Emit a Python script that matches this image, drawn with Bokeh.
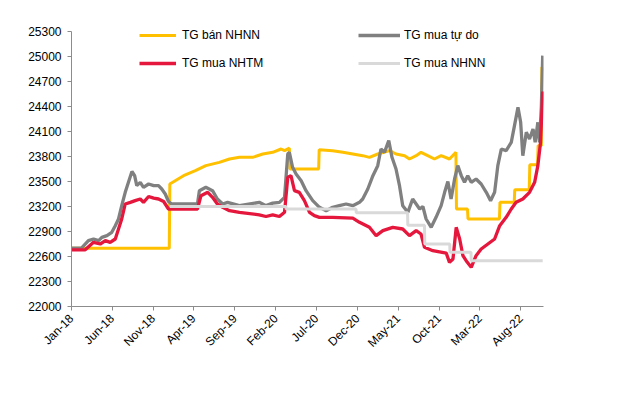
import math
from datetime import datetime
import pandas as pd
from bokeh.plotting import figure
from bokeh.models import (Range1d, FixedTicker, DatetimeTickFormatter, Legend,
                          LegendItem, ColumnDataSource)
from bokeh.embed import file_html
from bokeh.resources import INLINE

FONT = "Liberation Sans"

# ---------------- data ----------------
x_tick_labels = ["Jan-18", "Jun-18", "Nov-18", "Apr-19", "Sep-19", "Feb-20",
                 "Jul-20", "Dec-20", "May-21", "Oct-21", "Mar-22", "Aug-22"]
y_ticks = [22000, 22300, 22600, 22900, 23200, 23500, 23800, 24100, 24400,
           24700, 25000, 25300]

# TG bán NHNN (SBV selling rate)
ban_nhnn_dates = ["2018-01-02", "2018-12-31", "2019-01-02", "2019-02-22", "2019-04-07",
                  "2019-05-16", "2019-07-05", "2019-08-12", "2019-09-18", "2019-11-06",
                  "2019-12-14", "2020-01-20", "2020-02-20", "2020-03-04", "2020-03-22",
                  "2020-03-24", "2020-07-09", "2020-07-11", "2020-08-30",
                  "2020-10-07", "2020-11-13", "2020-12-20", "2021-01-14", "2021-02-14",
                  "2021-03-30", "2021-04-23", "2021-05-25", "2021-06-12", "2021-07-07",
                  "2021-07-25", "2021-08-19", "2021-09-13", "2021-10-08", "2021-11-08",
                  "2021-12-02", "2021-12-04", "2022-01-14", "2022-01-16", "2022-05-13",
                  "2022-05-15", "2022-07-07", "2022-07-09", "2022-09-01", "2022-09-03",
                  "2022-10-02", "2022-10-04", "2022-10-16", "2022-10-18", "2022-10-21"]
ban_nhnn_vals = [22700, 22700, 23470, 23570, 23630,
                 23690, 23730, 23770, 23790, 23790,
                 23830, 23850, 23890, 23870, 23900,
                 23650, 23650, 23880, 23870,
                 23850, 23830, 23810, 23790, 23830,
                 23870, 23830, 23810, 23770, 23810,
                 23850, 23810, 23770, 23810, 23770,
                 23850, 23170, 23170, 23050, 23050,
                 23250, 23250, 23400, 23400, 23700,
                 23700, 23930, 23930, 24870, 24870]

# TG mua tự do (free market buying rate)
tu_do_dates = ["2018-01-02", "2018-02-07", "2018-03-05", "2018-03-24", "2018-04-12",
               "2018-04-24", "2018-05-13", "2018-05-31", "2018-06-13", "2018-06-25",
               "2018-07-07", "2018-07-20", "2018-08-01", "2018-08-14", "2018-08-24",
               "2018-09-01", "2018-09-14", "2018-09-26", "2018-10-15", "2018-11-03",
               "2018-11-21", "2018-12-03", "2018-12-16", "2018-12-28",
               "2019-01-09", "2019-04-15", "2019-04-22", "2019-05-16", "2019-06-10",
               "2019-06-28", "2019-07-18", "2019-08-05", "2019-09-18", "2019-12-01",
               "2019-12-26",
               "2020-01-20", "2020-02-14", "2020-03-04", "2020-03-16", "2020-03-22",
               "2020-04-03", "2020-04-16", "2020-05-05", "2020-05-23", "2020-06-17",
               "2020-07-12", "2020-08-06", "2020-08-30", "2020-09-24", "2020-10-19",
               "2020-11-13", "2020-12-08", "2020-12-20",
               "2021-01-08", "2021-01-27", "2021-02-14", "2021-02-26", "2021-03-11",
               "2021-03-27", "2021-04-08", "2021-04-23", "2021-05-06", "2021-05-18",
               "2021-06-06", "2021-06-24", "2021-07-20", "2021-08-01", "2021-08-13",
               "2021-09-01", "2021-09-19", "2021-10-08", "2021-10-21", "2021-11-02",
               "2021-11-14", "2021-11-27", "2021-12-09", "2021-12-22",
               "2022-01-03", "2022-01-15", "2022-01-28", "2022-02-15", "2022-03-06",
               "2022-03-25", "2022-04-10", "2022-04-25", "2022-05-07", "2022-05-20",
               "2022-06-07", "2022-06-26", "2022-07-08", "2022-07-21", "2022-07-31",
               "2022-08-08", "2022-08-21", "2022-09-02", "2022-09-15", "2022-09-23",
               "2022-10-03", "2022-10-09", "2022-10-16", "2022-10-21"]
tu_do_vals = [22700, 22700, 22790, 22810, 22790,
              22830, 22850, 22890, 22970, 23050,
              23210, 23370, 23490, 23620, 23570,
              23450, 23490, 23430, 23470, 23450,
              23450, 23410, 23350, 23260,
              23230, 23230, 23390, 23430, 23390,
              23290, 23230, 23250, 23210, 23250,
              23210,
              23240, 23250, 23310, 23830, 23850,
              23670, 23590, 23510, 23390, 23270,
              23190, 23150, 23190, 23210, 23230,
              23210, 23250, 23290,
              23410, 23570, 23690, 23890, 23850,
              23990, 23790, 23650, 23450, 23210,
              23130, 23290, 23170, 23200, 23050,
              22950, 23070, 23210, 23370, 23500,
              23290, 23530, 23690, 23570,
              23490, 23570, 23490, 23530, 23470,
              23370, 23270, 23370, 23690, 23890,
              23870, 23970, 24170, 24390, 24210,
              23810, 24090, 24010, 24130, 23970,
              24210, 23970, 24400, 25010]

# TG mua NHTM (commercial banks buying rate)
nhtm_dates = ["2018-01-02", "2018-02-21", "2018-03-24", "2018-04-18", "2018-05-07",
              "2018-05-25", "2018-06-13", "2018-06-25", "2018-07-07", "2018-07-20",
              "2018-08-08", "2018-08-26", "2018-09-14", "2018-09-26", "2018-10-15",
              "2018-11-03", "2018-11-21", "2018-12-10", "2018-12-28",
              "2019-01-09", "2019-04-15", "2019-04-28", "2019-05-23", "2019-06-10",
              "2019-06-28", "2019-07-18", "2019-08-12", "2019-09-18", "2019-12-01",
              "2019-12-26",
              "2020-01-20", "2020-02-14", "2020-03-04", "2020-03-16", "2020-03-28",
              "2020-04-10", "2020-04-28", "2020-05-17", "2020-06-05", "2020-06-23",
              "2020-07-12", "2020-08-30", "2020-11-13", "2020-12-08",
              "2021-01-14", "2021-02-08", "2021-03-05", "2021-04-11", "2021-05-18",
              "2021-06-12", "2021-07-07", "2021-07-25", "2021-08-07", "2021-09-07",
              "2021-10-27", "2021-11-08", "2021-11-21", "2021-12-03", "2021-12-16",
              "2021-12-28",
              "2022-01-09", "2022-01-28", "2022-02-15", "2022-03-06", "2022-03-31",
              "2022-04-25", "2022-05-14", "2022-06-07", "2022-06-26", "2022-07-14",
              "2022-08-08", "2022-09-02", "2022-09-21", "2022-10-03", "2022-10-13",
              "2022-10-21"]
nhtm_vals = [22680, 22680, 22770, 22750, 22790,
             22770, 22810, 22930, 23050, 23230,
             23250, 23270, 23290, 23250, 23320,
             23300, 23290, 23260, 23170,
             23170, 23170, 23330, 23370, 23310,
             23230, 23190, 23150, 23130, 23100,
             23080,
             23100, 23080, 23130, 23550, 23570,
             23390, 23370, 23270, 23130, 23090,
             23070, 23070, 23060, 23010,
             22950, 22850, 22910, 22950, 22930,
             22850, 22910, 22870, 22710, 22670,
             22640, 22530, 22570, 22950, 22810,
             22610,
             22550, 22470, 22610, 22690, 22750,
             22810, 22970, 23070, 23170, 23250,
             23290, 23370, 23490, 23690, 23970,
             24580]

# TG mua NHNN (SBV buying rate)
mua_nhnn_dates = ["2019-01-02", "2020-03-09", "2020-03-10", "2020-11-25", "2020-11-26",
                  "2021-06-05", "2021-06-06", "2021-08-07", "2021-08-08", "2021-11-09",
                  "2021-11-10", "2022-01-27", "2022-01-28", "2022-10-21"]
mua_nhnn_vals = [23200, 23200, 23170, 23170, 23125,
                 23125, 22975, 22975, 22750, 22750,
                 22650, 22650, 22550, 22550]

# ---------------- figure ----------------
x_start = pd.Timestamp("2018-01-01")
x_end = pd.Timestamp("2022-10-24")

p = figure(width=612, height=383, x_axis_type="datetime",
           x_range=Range1d(x_start, x_end), y_range=Range1d(22000, 25600),
           output_backend="svg", toolbar_location=None,
           min_border_left=71, min_border_right=69,
           min_border_top=6, min_border_bottom=77)
p.xgrid.visible = False
p.ygrid.visible = False
p.outline_line_color = None
p.background_fill_color = "white"
p.border_fill_color = "white"

def src(d, v):
    return ColumnDataSource(dict(x=pd.to_datetime(d), y=v))

r_ban = p.line("x", "y", source=src(ban_nhnn_dates, ban_nhnn_vals),
               line_color="#FFC000", line_width=3)
r_tudo = p.line("x", "y", source=src(tu_do_dates, tu_do_vals),
                line_color="#808080", line_width=3.3)
r_nhtm = p.line("x", "y", source=src(nhtm_dates, nhtm_vals),
                line_color="#E5173C", line_width=3.3)
r_mua = p.line("x", "y", source=src(mua_nhnn_dates, mua_nhnn_vals),
               line_color="#D9D9D9", line_width=3)

axis_col = "#8C8C8C"
tick_ms = [pd.Timestamp(datetime.strptime(l, "%b-%y")).value / 1e6 for l in x_tick_labels]
xa = p.xaxis[0]
xa.ticker = FixedTicker(ticks=tick_ms)
fmt = "%b-%y"
xa.formatter = DatetimeTickFormatter(milliseconds=fmt, seconds=fmt, minsec=fmt, minutes=fmt,
                                     hourmin=fmt, hours=fmt, days=fmt, months=fmt, years=fmt)
xa.major_label_orientation = math.pi / 4

ya = p.yaxis[0]
ya.ticker = FixedTicker(ticks=y_ticks)
ya.bounds = (22000, 25300)

for ax in (xa, ya):
    ax.axis_line_color = axis_col
    ax.axis_line_width = 1
    ax.major_tick_line_color = axis_col
    ax.major_tick_in = 0
    ax.major_tick_out = 4
    ax.minor_tick_line_color = None
    ax.major_label_text_font = FONT
    ax.major_label_text_font_size = "12px"
    ax.major_label_text_color = "#000000"
    ax.major_label_standoff = 6

leg_common = dict(label_text_font=FONT, label_text_font_size="12px",
                  label_text_color="#000000", label_height=20, glyph_height=20,
                  spacing=8, padding=10, margin=0, border_line_color=None,
                  background_fill_alpha=0)
leg1 = Legend(items=[LegendItem(label="TG bán NHNN", renderers=[r_ban]),
                     LegendItem(label="TG mua NHTM", renderers=[r_nhtm])],
              location=(68, 233), glyph_width=37, label_standoff=6, **leg_common)
leg2 = Legend(items=[LegendItem(label="TG mua tự do", renderers=[r_tudo]),
                     LegendItem(label="TG mua NHNN", renderers=[r_mua])],
              location=(287, 233), glyph_width=42, label_standoff=4, **leg_common)
p.add_layout(leg1)
p.add_layout(leg2)

open("out.html", "w").write(file_html(p, INLINE))
